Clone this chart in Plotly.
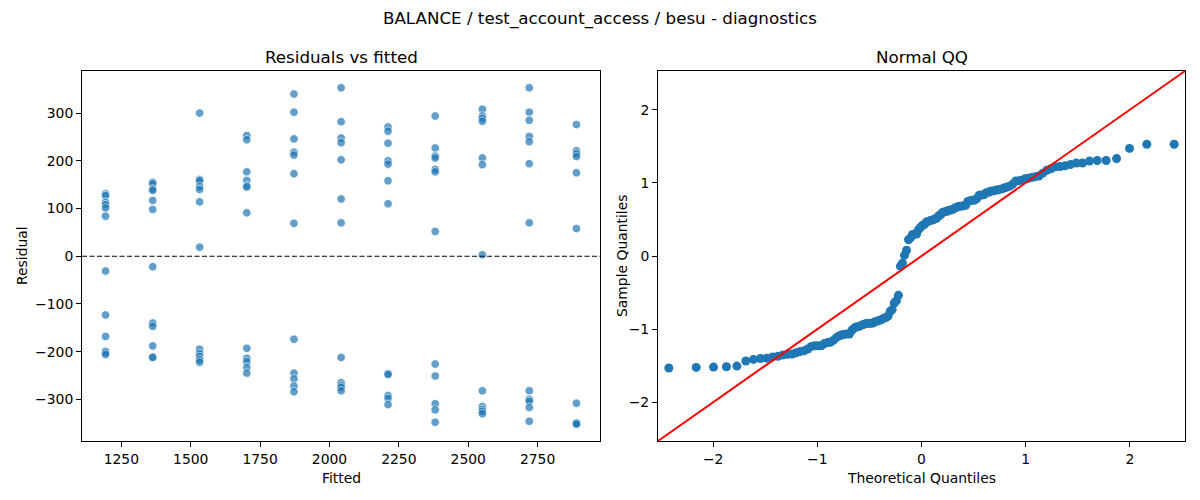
import numpy as np
from statistics import NormalDist
import plotly.graph_objects as go

# fitted value of each column (x positions in the residual plot)
fitted_levels = [1193, 1363, 1532, 1702, 1872, 2042, 2211, 2381, 2551, 2720, 2890]

# residuals read per fitted column
res_1193 = [131, 127, 113, 108, 101, 84, -31, -123, -168, -199, -202, -206]
res_1363 = [155, 152, 141, 138, 117, 98, -22, -140, -147, -188, -211, -212]
res_1532 = [300, 161, 158, 146, 140, 114, 19, -195, -204, -210, -217, -222]
res_1702 = [253, 244, 177, 159, 148, 145, 91, -193, -214, -221, -233, -245]
res_1872 = [340, 302, 246, 218, 212, 173, 69, -174, -245, -257, -272, -284]
res_2042 = [353, 282, 248, 238, 202, 120, 70, -212, -265, -271, -275, -282]
res_2211 = [271, 262, 237, 200, 193, 158, 110, -246, -248, -292, -298, -311]
res_2381 = [294, 227, 210, 206, 182, 177, 52, -226, -251, -309, -322, -348]
res_2551 = [308, 294, 289, 283, 206, 192, 3, -282, -315, -321, -325, -330]
res_2720 = [353, 302, 285, 251, 240, 194, 70, -282, -300, -304, -317, -346]
res_2890 = [276, 221, 215, 209, 175, 58, -308, -349, -350, -352]

groups = [res_1193, res_1363, res_1532, res_1702, res_1872, res_2042,
          res_2211, res_2381, res_2551, res_2720, res_2890]

fitted = np.concatenate([[f] * len(g) for f, g in zip(fitted_levels, groups)])
resid = np.concatenate([np.array(g, dtype=float) for g in groups])

# standardized residuals vs normal quantiles for the QQ panel
std_resid = np.sort((resid - resid.mean()) / resid.std(ddof=1))
n = len(std_resid)
theo = np.array([NormalDist().inv_cdf(i / (n + 1)) for i in range(1, n + 1)])

FONT = "DejaVu Sans"
W, H = 1200, 500
OFF = 8  # page body margin shifts the figure

def px_x(p):
    return (p - OFF) / W

def px_y(p):
    return 1 - (p - OFF) / H

# axes boxes in screen pixels
L1, R1 = 82, 600
L2, R2 = 658, 1185
TOP, BOT = 71, 441

fig = go.Figure()

fig.add_trace(go.Scatter(
    x=fitted, y=resid, mode="markers", xaxis="x", yaxis="y",
    marker=dict(size=8.5, color="#1f77b4", opacity=0.7,
                line=dict(color="white", width=0.8)),
    showlegend=False, hoverinfo="x+y"))

fig.add_trace(go.Scatter(
    x=theo, y=std_resid, mode="markers", xaxis="x2", yaxis="y2",
    marker=dict(size=9, color="#1f77b4", line=dict(width=0)),
    showlegend=False, hoverinfo="x+y"))

# matplotlib-like 5% margins
fpad = 0.05 * (fitted.max() - fitted.min())
rpad = 0.05 * (resid.max() - resid.min())
qq_lim = 2.53

axis_common = dict(showgrid=False, zeroline=False, showline=True, linecolor="black",
                   linewidth=1, mirror=True, ticks="outside", ticklen=5,
                   tickcolor="black", tickwidth=1,
                   tickfont=dict(family=FONT, size=13.9, color="black"))

fig.update_layout(
    width=W, height=H,
    margin=dict(l=0, r=0, t=0, b=0),
    plot_bgcolor="white", paper_bgcolor="white",
    font=dict(family=FONT, color="black"),
    xaxis=dict(domain=[px_x(L1), px_x(R1)],
               range=[fitted.min() - fpad, fitted.max() + fpad],
               tickvals=[1250, 1500, 1750, 2000, 2250, 2500, 2750],
               anchor="y", **axis_common),
    yaxis=dict(domain=[px_y(BOT), px_y(TOP)],
               range=[resid.min() - rpad, resid.max() + rpad],
               tickvals=[-300, -200, -100, 0, 100, 200, 300],
               anchor="x", **axis_common),
    xaxis2=dict(domain=[px_x(L2), px_x(R2)], range=[-qq_lim, qq_lim],
                tickvals=[-2, -1, 0, 1, 2], anchor="y2", **axis_common),
    yaxis2=dict(domain=[px_y(BOT), px_y(TOP)], range=[-qq_lim, qq_lim],
                tickvals=[-2, -1, 0, 1, 2], anchor="x2", **axis_common),
)

# zero reference line and 45-degree line
fig.add_shape(type="line", xref="x domain", yref="y", x0=0, x1=1, y0=0, y1=0,
              line=dict(color="black", width=1.2, dash="5px,2.5px"))
fig.add_shape(type="line", xref="x2 domain", yref="y2 domain", x0=0, y0=0, x1=1, y1=1,
              line=dict(color="red", width=2))

def label(text, x, y, size, angle=0):
    fig.add_annotation(text=text, x=px_x(x), y=px_y(y), xref="paper", yref="paper",
                       showarrow=False, xanchor="center", yanchor="middle",
                       textangle=angle, font=dict(family=FONT, size=size, color="black"))

label("BALANCE / test_account_access / besu - diagnostics", 600, 18, 16.7)
label("Residuals vs fitted", (L1 + R1) / 2, 57, 16.7)
label("Normal QQ", (L2 + R2) / 2, 57, 16.7)
label("Fitted", (L1 + R1) / 2, 478, 13.9)
label("Residual", 22, (TOP + BOT) / 2, 13.9, -90)
label("Theoretical Quantiles", (L2 + R2) / 2, 478, 13.9)
label("Sample Quantiles", 622, (TOP + BOT) / 2, 13.9, -90)

fig.write_html("out.html")
